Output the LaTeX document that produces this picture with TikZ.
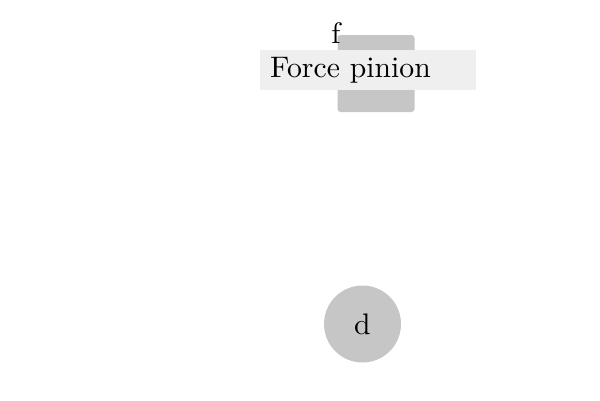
\documentclass[tikz,border=0pt]{standalone}
\definecolor{shapegray}{HTML}{C6C6C6}
\definecolor{labelgray}{HTML}{EFEFEF}
\newcommand{\bigtxt}[1]{\scalebox{2.97}{#1}}
\begin{document}
\begin{tikzpicture}[x=1pt,y=-1pt,
  block/.style={fill=shapegray, draw=none, rounded corners=3pt, minimum width=77pt, minimum height=77pt, inner sep=0pt},
  roundnode/.style={circle, fill=shapegray, draw=none, minimum size=77pt, inner sep=0pt},
  tag/.style={fill=labelgray, draw=none, text width=196pt, inner xsep=10pt, inner ysep=0pt, minimum height=40pt, align=left}]
\useasboundingbox (0,0) rectangle (600,400);
\node[block] (f) at (376,73.5) {};
\node[anchor=base, inner sep=0pt] (flabel) at (336,43) {\bigtxt{f}};
\node[tag, anchor=west] (force) at (260,70) {\bigtxt{Force pinion}};
\node[roundnode] (d) at (362.5,324) {\bigtxt{d}};
\end{tikzpicture}
\end{document}
